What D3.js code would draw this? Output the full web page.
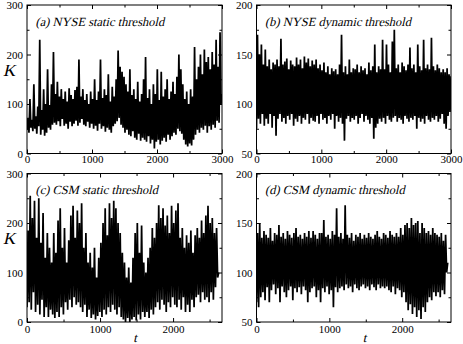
<!DOCTYPE html>
<html>
<head>
<meta charset="utf-8">
<script src="https://cdn.jsdelivr.net/npm/d3@7"></script>
<style>
  body { margin: 0; background: #fff; }
</style>
</head>
<body>
<div id="viz"></div>
<script>
// Data: alternating low / high values along t
const nyseStatic = [
    48,72, 42,110, 52,68, 45,140, 50,75,
    40,95, 55,230, 38,88, 48,130, 36,100,
    42,170, 52,98, 48,140, 58,205, 62,120,
    58,145, 65,115, 55,130, 70,110, 56,125,
    60,105, 50,132, 64,118, 55,110, 60,128,
    66,135, 56,190, 62,115, 70,130, 58,108,
    55,120, 64,100, 52,125, 60,110, 50,150,
    56,108, 46,125, 60,190, 50,112, 55,130,
    44,118, 52,160, 48,105, 42,135, 55,115,
    60,150, 65,208, 72,175, 58,165, 52,155,
    42,140, 48,125, 38,170, 35,118, 45,130,
    32,110, 28,145, 40,105, 26,120, 32,150,
    28,195, 24,112, 35,130, 20,100, 28,140,
    10,120, 24,170, 28,108, 18,165, 26,115,
    32,130, 24,150, 38,110, 28,125, 35,145,
    42,120, 38,155, 50,200, 45,170, 40,140,
    28,110, 18,125, 14,100, 20,130, 16,115,
    28,215, 38,150, 48,175, 42,200, 52,160,
    48,210, 56,185, 42,195, 55,170, 48,205,
    58,180, 52,230, 66,175, 62,245, 100,120
];

const nyseDynamic = [
    75,170, 85,150, 80,160, 90,140, 78,155,
    85,138, 80,145, 90,135, 76,142, 88,140,
    68,145, 85,138, 90,166, 82,140, 86,143,
    80,146, 88,135, 84,144, 90,140, 78,138,
    85,147, 82,140, 88,145, 80,136, 86,148,
    84,142, 90,146, 80,138, 86,144, 83,140,
    82,145, 88,136, 80,140, 90,134, 84,142,
    86,132, 80,138, 88,130, 84,136, 90,133,
    75,135, 88,130, 82,140, 86,170, 80,132,
    63,138, 85,130, 88,145, 82,132, 86,136,
    84,135, 88,140, 80,132, 86,138, 90,134,
    82,136, 88,130, 84,142, 80,134, 86,138,
    65,160, 76,132, 80,138, 85,135, 82,165,
    86,135, 80,160, 88,140, 84,132, 82,163,
    86,175, 88,136, 82,140, 86,132, 84,142,
    80,138, 88,134, 85,140, 82,157, 86,136,
    84,140, 88,132, 75,160, 86,138, 82,134,
    85,165, 80,136, 88,140, 84,135, 82,167,
    86,138, 84,134, 88,140, 82,136, 85,132,
    90,135, 80,132, 75,136, 88,130, 92,128
];

const csmStatic = [
    30,185, 40,255, 25,210, 60,245, 20,170,
    35,250, 15,160, 45,220, 10,130, 30,180,
    10,150, 25,120, 15,180, 8,140, 20,205,
    10,230, 30,150, 15,190, 40,120, 25,165,
    45,215, 30,235, 50,170, 35,225, 40,200,
    30,240, 20,150, 35,180, 10,120, 25,140,
    8,110, 15,150, 5,90, 12,130, 20,160,
    10,200, 25,230, 15,175, 30,240, 20,210,
    35,245, 25,230, 15,200, 30,180, 10,140,
    5,120, 0,90, 8,110, 0,80, 5,130,
    10,180, 3,200, 15,140, 5,195, 20,120,
    10,100, 20,130, 8,150, 25,190, 15,170,
    30,200, 40,236, 25,210, 45,230, 35,195,
    20,215, 40,180, 30,235, 50,200, 35,225,
    30,240, 45,170, 25,190, 50,150, 20,175,
    35,160, 20,185, 45,140, 30,175, 50,190,
    55,170, 40,205, 60,180, 45,215, 50,235,
    40,200, 60,210, 45,180, 70,190, 90,100
];

const csmDynamic = [
    70,140, 65,150, 75,135, 80,142, 72,138,
    85,135, 70,145, 82,132, 88,140, 78,138,
    84,148, 70,136, 86,140, 80,134, 75,142,
    82,138, 86,135, 72,140, 84,145, 80,136,
    85,138, 78,134, 86,140, 82,136, 70,142,
    80,135, 84,142, 86,138, 75,134, 82,140,
    70,140, 84,153, 80,136, 86,138, 78,134,
    82,142, 65,138, 85,165, 80,136, 84,140,
    86,134, 82,168, 88,138, 84,135, 86,140,
    80,132, 88,138, 84,136, 82,140, 86,134,
    88,138, 84,135, 86,140, 82,136, 88,134,
    85,138, 82,142, 88,136, 84,134, 86,140,
    84,138, 86,135, 82,142, 80,138, 86,136,
    78,140, 84,136, 82,145, 75,138, 80,148,
    70,150, 62,145, 68,155, 58,148, 65,150,
    55,152, 62,140, 53,150, 65,145, 60,140,
    70,142, 75,138, 72,145, 80,140, 76,138,
    80,136, 75,140, 82,132, 78,138, 100,110
];

const titles = ["(a) NYSE static threshold", "(b) NYSE dynamic threshold",
                "(c) CSM static threshold", "(d) CSM dynamic threshold"];

const nyseLength = 3000, csmLength = 2625;

const serif = '"Liberation Serif", "Times New Roman", serif';

const svg = d3.select("#viz").append("svg")
    .attr("width", 463)
    .attr("height", 344);

const panels = [
    {data: nyseStatic, len: nyseLength, xMax: 3000, yDom: [0, 300], yMajor: [0, 100, 200, 300], yMinor: [50, 150, 250],
     x0: 27, x1: 222, y0: 5, y1: 153.5, title: titles[0], K: true, t: false, pad: 1.5},
    {data: nyseDynamic, len: nyseLength, xMax: 3000, yDom: [50, 200], yMajor: [50, 100, 150, 200], yMinor: [75, 125, 175],
     x0: 256.5, x1: 451, y0: 5, y1: 153.5, title: titles[1], K: false, t: false, pad: 1.5},
    {data: csmStatic, len: csmLength, xMax: 2670, yDom: [0, 300], yMajor: [0, 100, 200, 300], yMinor: [50, 150, 250],
     x0: 27, x1: 222, y0: 173.5, y1: 322, title: titles[2], K: true, t: true, pad: 3},
    {data: csmDynamic, len: csmLength, xMax: 2670, yDom: [50, 200], yMajor: [50, 100, 150, 200], yMinor: [75, 125, 175],
     x0: 256.5, x1: 451, y0: 173.5, y1: 322, title: titles[3], K: false, t: true, pad: 3}
];

// no italic serif face is installed, so slant the upright one
function slanted(sel, x, y, size, str, anchor) {
    return sel.append("text")
        .attr("transform", `translate(${x},${y}) skewX(-13)`)
        .attr("text-anchor", anchor || "start")
        .style("font-family", serif)
        .style("font-size", size + "px")
        .attr("fill", "#000")
        .text(str);
}

panels.forEach((p, i) => {
    const x = d3.scaleLinear().domain([0, p.xMax]).range([p.x0, p.x1]);
    const y = d3.scaleLinear().domain(p.yDom).range([p.y1, p.y0]);
    const g = svg.append("g");

    const xMajor = [0, 1000, 2000, 3000].filter(v => v <= p.xMax);
    const xMinor = [500, 1500, 2500].filter(v => v <= p.xMax);

    // the series
    g.append("clipPath").attr("id", "clip" + i)
        .append("rect")
        .attr("x", p.x0).attr("y", p.y0)
        .attr("width", p.x1 - p.x0).attr("height", p.y1 - p.y0);

    const step = p.len / (p.data.length - 1);
    const line = d3.line()
        .x((d, j) => x(j * step))
        .y(d => y(d));

    g.append("path")
        .datum(p.data)
        .attr("clip-path", "url(#clip" + i + ")")
        .attr("fill", "none")
        .attr("stroke", "#000")
        .attr("stroke-width", 1.75)
        .attr("stroke-linejoin", "bevel")
        .attr("d", line);

    // frame
    g.append("rect")
        .attr("x", p.x0).attr("y", p.y0)
        .attr("width", p.x1 - p.x0).attr("height", p.y1 - p.y0)
        .attr("fill", "none")
        .attr("stroke", "#000")
        .attr("stroke-width", 1);

    // ticks on all four sides, pointing inward
    const axes = [
        {ax: d3.axisBottom(x), tr: `translate(0,${p.y1})`, maj: xMajor, min: xMinor, lab: true},
        {ax: d3.axisTop(x), tr: `translate(0,${p.y0})`, maj: xMajor, min: xMinor, lab: false},
        {ax: d3.axisLeft(y), tr: `translate(${p.x0},0)`, maj: p.yMajor, min: p.yMinor, lab: true},
        {ax: d3.axisRight(y), tr: `translate(${p.x1},0)`, maj: p.yMajor, min: p.yMinor, lab: false}
    ];
    axes.forEach((a, k) => {
        const major = g.append("g")
            .attr("transform", a.tr)
            .call(a.ax.tickValues(a.maj).tickSize(-4)
                .tickPadding(k === 0 ? p.pad : 4)
                .tickFormat(a.lab ? d3.format("d") : ""));
        major.select(".domain").remove();
        major.selectAll("text")
            .style("font-family", serif)
            .style("font-size", "11px")
            .attr("fill", "#000");
        major.selectAll("line").attr("stroke", "#000");

        const minor = g.append("g")
            .attr("transform", a.tr)
            .call(a.ax.tickValues(a.min).tickSize(-2.5).tickFormat(""));
        minor.select(".domain").remove();
        minor.selectAll("line").attr("stroke", "#000");
    });

    slanted(g, p.x0 + 8.5, p.y0 + 20.5, 12.5, p.title);

    if (p.K) slanted(g, 3, p.y0 + 70.5, 17, "K");
    if (p.t) slanted(g, p.x0 + 108, 342, 13, "t", "middle");
});
</script>
</body>
</html>
